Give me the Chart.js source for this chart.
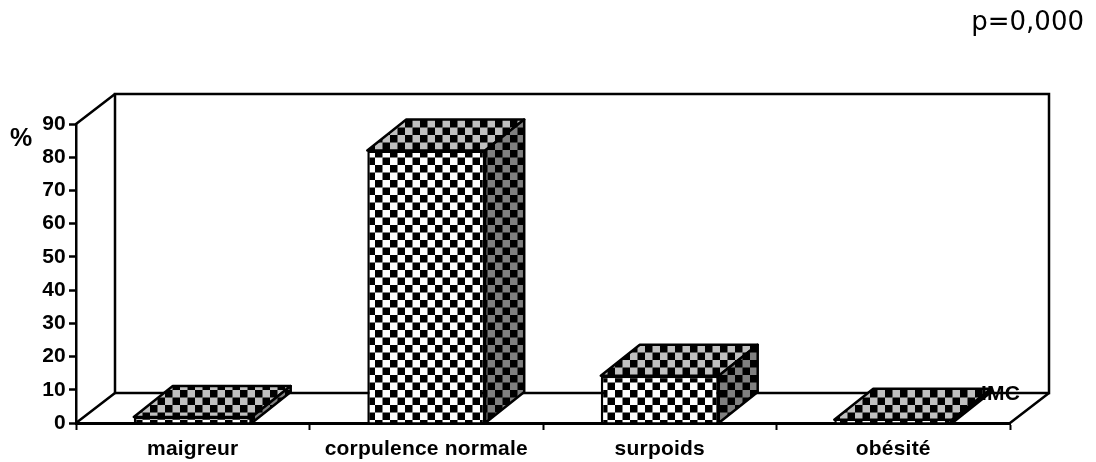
<!DOCTYPE html>
<html>
<head>
<meta charset="utf-8">
<style>
  html, body { margin: 0; padding: 0; background: #fff; }
  #wrap { position: relative; width: 1096px; height: 462px; }
</style>
<script src="https://cdn.jsdelivr.net/npm/chart.js@4"></script>
</head>
<body>
<div id="wrap"><canvas id="mygraph" width="1096" height="462"></canvas></div>
<script>
const categories = ['maigreur', 'corpulence normale', 'surpoids', 'obésité'];
const values = [1.8, 82, 14.2, 1];
const yTicks = [0, 10, 20, 30, 40, 50, 60, 70, 80, 90];

const depthX = 39;
const wallDepthY = -30;
const barDepthY = -31;
const font = '"Liberation Sans", Arial, sans-serif';

// checkerboard fill, 2 colours
let checker = (dark, light) => {
  const c = document.createElement('canvas');
  c.width = 15;
  c.height = 15;
  const g = c.getContext('2d');
  g.fillStyle = light;
  g.fillRect(0, 0, 15, 15);
  g.fillStyle = dark;
  g.fillRect(0, 0, 7.5, 7.5);
  g.fillRect(7.5, 7.5, 7.5, 7.5);
  return g.createPattern(c, 'repeat');
}

const ctx = document.getElementById('mygraph').getContext('2d');
const frontFill = checker('#000', '#fff');
const topFill = checker('#000', '#c0c0c0');
const sideFill = checker('#000', '#808080');

let face = (g, pts, fill) => {
  g.beginPath();
  pts.forEach((p, i) => i ? g.lineTo(p[0], p[1]) : g.moveTo(p[0], p[1]));
  g.closePath();
  g.fillStyle = fill;
  g.fill();
  g.stroke();
}

const box3d = {
  id: 'box3d',
  beforeDraw(chart) {
    // reference text is a little wider than the plain font
    chart.ctx.letterSpacing = '0.2px';
  },
  beforeDatasetsDraw(chart) {
    const { left, right, top, bottom } = chart.chartArea;
    const g = chart.ctx;
    g.save();
    g.strokeStyle = '#000';
    g.lineWidth = 2.5;
    // back wall and floor edges
    g.strokeRect(left + depthX, top + wallDepthY, right - left, bottom - top);
    g.beginPath();
    g.moveTo(left, top);
    g.lineTo(left + depthX, top + wallDepthY);
    g.moveTo(left, bottom);
    g.lineTo(left + depthX, bottom + wallDepthY);
    g.moveTo(right, bottom);
    g.lineTo(right + depthX, bottom + wallDepthY);
    g.stroke();
    g.restore();
  },
  afterDatasetsDraw(chart) {
    const g = chart.ctx;
    const base = chart.scales.y.getPixelForValue(0);
    g.save();
    g.strokeStyle = '#000';
    g.lineWidth = 2.5;
    g.lineJoin = 'round';
    chart.getDatasetMeta(0).data.forEach(bar => {
      const l = bar.x - bar.width / 2;
      const r = bar.x + bar.width / 2;
      const t = bar.y;
      face(g, [[l, t], [r, t], [r + depthX, t + barDepthY], [l + depthX, t + barDepthY]], topFill);
      face(g, [[r, t], [r + depthX, t + barDepthY], [r + depthX, base + barDepthY], [r, base]], sideFill);
    });
    // free labels
    g.fillStyle = '#000';
    g.textBaseline = 'middle';
    g.textAlign = 'left';
    g.font = 'bold 25px ' + font;
    g.fillText('%', 10, 139);
    g.font = 'bold 21px ' + font;
    g.fillText('IMC', 981, 394);
    g.letterSpacing = '0px';
    g.font = '26px "DejaVu Sans"';
    g.textAlign = 'right';
    g.fillText('p=0,000', 1084, 23);
    g.restore();
  }
};

new Chart(ctx, {
  type: 'bar',
  data: {
    labels: categories,
    datasets: [{
      data: values,
      backgroundColor: frontFill,
      borderColor: '#000',
      borderWidth: 2.5,
      barPercentage: 0.505,
      categoryPercentage: 1
    }]
  },
  options: {
    responsive: false,
    animation: false,
    layout: { padding: { top: 124, right: 86, bottom: 0, left: 0 } },
    plugins: {
      legend: { display: false },
      tooltip: { enabled: false }
    },
    scales: {
      x: {
        afterFit: s => { s.height = 39; },
        grid: { drawOnChartArea: false, offset: true, tickLength: 7, tickColor: '#000', tickWidth: 2 },
        border: { color: '#000', width: 3 },
        ticks: { color: '#000', font: { family: font, size: 21, weight: 'bold' }, padding: 7, maxRotation: 0 }
      },
      y: {
        min: 0,
        max: 90,
        afterFit: s => { s.width = 76; },
        afterBuildTicks: s => { s.ticks = yTicks.map(v => ({ value: v })); },
        grid: { drawOnChartArea: false, tickLength: 7, tickColor: '#000', tickWidth: 2.5 },
        border: { color: '#000', width: 2.5 },
        ticks: { color: '#000', font: { family: font, size: 21, weight: 'bold' }, padding: 3 }
      }
    }
  },
  plugins: [box3d]
});
</script>
</body>
</html>
